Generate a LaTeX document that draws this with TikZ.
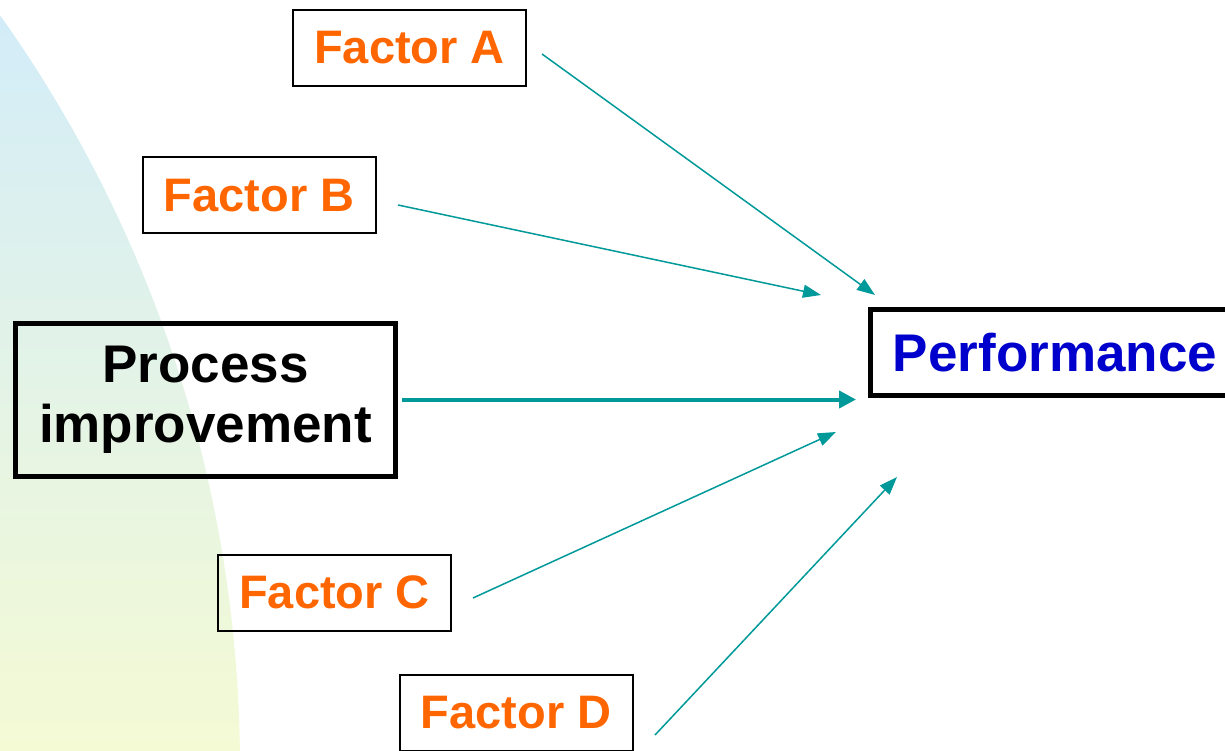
\documentclass[tikz,border=0pt]{standalone}
\usepackage{fontspec}
\setmainfont{Liberation Sans}
\usetikzlibrary{arrows.meta}
\definecolor{factororange}{RGB}{255,102,0}
\definecolor{perfblue}{RGB}{0,0,204}
\definecolor{linkteal}{RGB}{0,153,153}
\definecolor{bgtop}{RGB}{210,236,249}
\definecolor{bgmid}{RGB}{228,242,228}
\definecolor{bgbottom}{RGB}{244,250,212}
\tikzset{
  factorbox/.style={draw=black, line width=2pt, inner sep=0pt,
    minimum width=233pt, minimum height=76pt,
    font=\fontsize{47}{56}\selectfont\bfseries, text=factororange},
  mainbox/.style={draw=black, line width=5pt, inner sep=0pt,
    font=\fontsize{53}{60}\selectfont\bfseries, align=center},
  thinlink/.style={linkteal, line width=1.5pt,
    -{Triangle[length=18pt,width=13pt]}},
  thicklink/.style={linkteal, line width=4pt,
    -{Triangle[length=17pt,width=17pt]}}
}
\begin{document}
\begin{tikzpicture}[x=1pt,y=-1pt]
\useasboundingbox (0,0) rectangle (1225,751);

% soft curved backdrop on the left
\begin{scope}
  \clip (-1060,768) circle[radius=1300pt];
  \shade[top color=bgtop, middle color=bgmid, bottom color=bgbottom]
    (0,0) rectangle (300,751);
\end{scope}

% boxes
\node[factorbox] (fa) at (409.5,48) {Factor A};
\node[factorbox] (fb) at (259,195.5) {Factor B};
\node[factorbox] (fc) at (334.5,592.5) {Factor C};
\node[factorbox] (fd) at (516,712.5) {Factor D};
\node[mainbox, minimum width=380pt, minimum height=153pt] (pi) at (205.5,399.5)
  {Process\\improvement};
\node[mainbox, minimum width=369pt, minimum height=86pt, text=perfblue] (perf)
  at (1055,352.5) {Performance};

% connector end points
\coordinate (aS) at (542,54);   \coordinate (aE) at (875,295);
\coordinate (bS) at (398,205);  \coordinate (bE) at (821,295);
\coordinate (pS) at (402,399.5);\coordinate (pE) at (856,399.5);
\coordinate (cS) at (473,598);  \coordinate (cE) at (836,432);
\coordinate (dS) at (655,735);  \coordinate (dE) at (897,477);

% connectors
\draw[thinlink] (aS) -- (aE);
\draw[thinlink] (bS) -- (bE);
\draw[thicklink] (pS) -- (pE);
\draw[thinlink] (cS) -- (cE);
\draw[thinlink] (dS) -- (dE);
\end{tikzpicture}
\end{document}
